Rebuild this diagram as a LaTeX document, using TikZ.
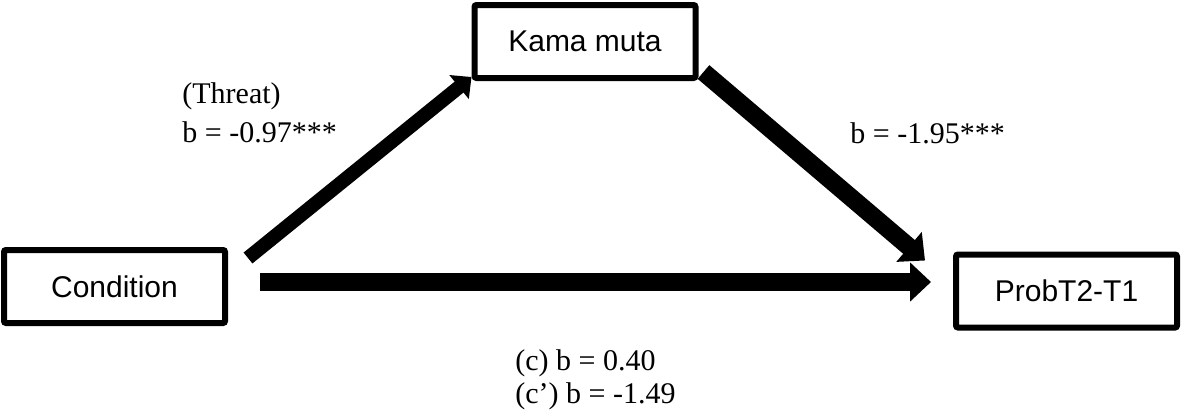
\documentclass[tikz,border=0pt]{standalone}
\usepackage{fontspec}
\setmainfont{Liberation Serif}
\newfontfamily\arialfont{Liberation Sans}
\usetikzlibrary{arrows.meta}

\begin{document}
\begin{tikzpicture}[x=0.5pt,y=-0.5pt,
    var/.style={draw, line width=3pt, rounded corners=1pt, minimum width=110.5pt,
      minimum height=36.5pt, inner sep=0pt, font=\arialfont\fontsize{15}{18}\selectfont},
    lbl/.style={anchor=base west, inner sep=0pt, font=\fontsize{15}{18}\selectfont},
    thin path/.style={line width=7pt, -{Triangle[width=15pt,length=8pt]}},
    thick path/.style={line width=9pt, -{Triangle[width=19pt,length=10.5pt]}}]

  \useasboundingbox (0,0) rectangle (1181,419);

  % variables
  \node[var] (cond) at (114.5,286.5) {Condition};
  \node[var] (kama) at (585,41.5) {Kama muta};
  \node[var] (prob) at (1066.5,291) {ProbT2-T1};

  % paths
  \draw[thin path] ([shift={(20,11)}]cond.north east) -- ([shift={(0,-4)}]kama.south west);
  \draw[thick path] ([shift={(5,-9)}]kama.south east) -- ([shift={(-28,9)}]prob.north west);
  \draw[thick path] ([shift={(32,-4.5)}]cond.east) -- ([shift={(-22,-9)}]prob.west);

  % coefficients
  \node[lbl] (threat) at (182,103) {(Threat)};
  \node[lbl] (ba) at (182,142) {b = -0.97***};
  \node[lbl] (bb) at (850,143) {b = -1.95***};
  \node[lbl] (c) at (515,370) {(c) b = 0.40};
  \node[lbl] (cp) at (515,403) {(c’) b = -1.49};
\end{tikzpicture}
\end{document}
